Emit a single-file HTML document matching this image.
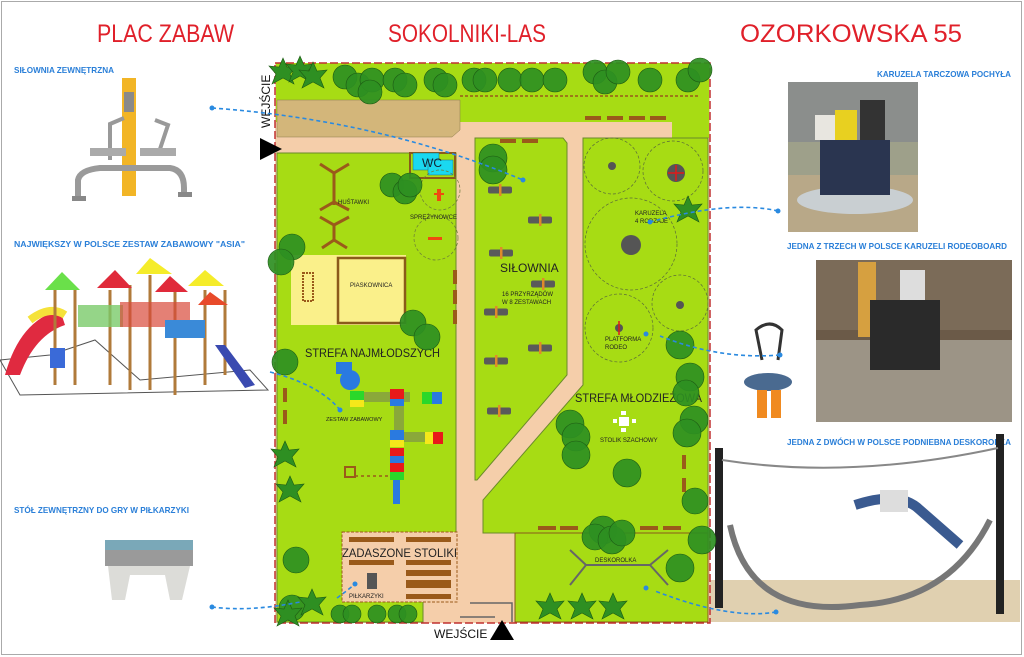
<!DOCTYPE html>
<html><head><meta charset="utf-8"><style>
html,body{margin:0;padding:0;background:#fff;}
svg{display:block;}
.t{font-family:"Liberation Sans",sans-serif;}
</style></head><body>
<svg width="1024" height="657" viewBox="0 0 1024 657" xmlns="http://www.w3.org/2000/svg">
<defs>
<g id="g1"><rect x="-12" y="-3.5" width="24" height="7" rx="2" fill="#5a5a5a"/><rect x="-1" y="-6" width="2.5" height="12" fill="#e08a2a"/></g>
<polygon id="st" points="0,-14 4,-5 14,-6 7,2 11,12 0,6 -11,12 -7,2 -14,-6 -4,-5"/>
</defs>
<rect x="1.5" y="1.5" width="1020" height="653" fill="#fff" stroke="#aaa"/>
<!-- titles -->
<g class="t" fill="#e0202a" font-size="25">
<text x="97" y="42" textLength="137" lengthAdjust="spacingAndGlyphs">PLAC ZABAW</text>
<text x="388" y="42" textLength="158" lengthAdjust="spacingAndGlyphs">SOKOLNIKI-LAS</text>
<text x="740" y="42" textLength="222" lengthAdjust="spacingAndGlyphs">OZORKOWSKA 55</text>
</g>
<g class="t" fill="#2a7fd8" font-size="8.5" font-weight="bold">
<text x="14" y="73" textLength="100" lengthAdjust="spacingAndGlyphs">SIŁOWNIA ZEWNĘTRZNA</text>
<text x="14" y="247" textLength="231" lengthAdjust="spacingAndGlyphs">NAJWIĘKSZY W POLSCE ZESTAW ZABAWOWY "ASIA"</text>
<text x="14" y="513" textLength="175" lengthAdjust="spacingAndGlyphs">STÓŁ ZEWNĘTRZNY DO GRY W PIŁKARZYKI</text>
<text x="877" y="77" textLength="134" lengthAdjust="spacingAndGlyphs">KARUZELA TARCZOWA POCHYŁA</text>
<text x="787" y="249" textLength="220" lengthAdjust="spacingAndGlyphs">JEDNA Z TRZECH W POLSCE KARUZELI RODEOBOARD</text>
<text x="787" y="445" textLength="224" lengthAdjust="spacingAndGlyphs">JEDNA Z DWÓCH W POLSCE PODNIEBNA DESKOROLKA</text>
</g>
<!-- gym image -->
<g>
<rect x="122" y="78" width="14" height="118" fill="#f2b526"/>
<rect x="124" y="92" width="10" height="20" fill="#8a8a8a"/>
<path d="M78 200 L78 180 Q80 170 100 168 L170 168 Q184 170 184 188 L184 196" fill="none" stroke="#9a9a9a" stroke-width="6"/>
<path d="M110 160 L110 124 L124 118 M158 155 L168 125 L155 120" fill="none" stroke="#999" stroke-width="4"/>
<rect x="90" y="148" width="36" height="8" fill="#aaa"/><rect x="140" y="148" width="36" height="8" fill="#aaa"/>
<rect x="72" y="196" width="14" height="5" fill="#888"/><rect x="178" y="192" width="14" height="5" fill="#888"/>
</g>
<!-- playground image -->
<g>
<path d="M0 360 L50 355 L95 340 L140 380 L250 370 L268 390 L20 395 Z" fill="none" stroke="#555" stroke-width="1"/>
<path d="M5 375 Q20 320 60 310 L65 325 Q35 335 20 375 Z" fill="#e02a40"/>
<path d="M30 320 Q50 305 65 315" stroke="#f5e23a" stroke-width="8" fill="none"/>
<g stroke="#b07a3a" stroke-width="3"><line x1="55" y1="290" x2="55" y2="385"/><line x1="75" y1="290" x2="75" y2="385"/><line x1="110" y1="290" x2="110" y2="385"/><line x1="130" y1="285" x2="130" y2="390"/><line x1="150" y1="275" x2="150" y2="390"/><line x1="175" y1="290" x2="175" y2="395"/><line x1="205" y1="290" x2="205" y2="385"/><line x1="225" y1="290" x2="225" y2="375"/></g>
<polygon points="45,290 62,272 80,290" fill="#6ae04a"/>
<polygon points="97,288 115,270 132,288" fill="#e02a3a"/>
<polygon points="136,274 150,258 172,274" fill="#f5ec2a"/>
<polygon points="155,292 170,276 188,292" fill="#e02a3a"/>
<polygon points="188,286 205,270 224,286" fill="#f5ec2a"/>
<polygon points="198,305 210,292 228,305" fill="#e84a2a"/>
<rect x="78" y="305" width="45" height="22" fill="#7acb6a" opacity=".8"/>
<rect x="120" y="302" width="70" height="25" fill="#d84a3a" opacity=".7"/>
<rect x="165" y="320" width="40" height="18" fill="#3a8ad8"/>
<rect x="50" y="348" width="15" height="20" fill="#3a6ad8"/>
<polygon points="215,345 225,345 255,385 245,388" fill="#3a4ab0"/>
</g>
<!-- foosball -->
<rect x="105" y="548" width="88" height="18" fill="#9a9a9a"/>
<rect x="105" y="540" width="88" height="10" fill="#7aa8b8"/>
<polygon points="108,566 190,566 182,600 170,600 165,575 130,575 125,600 112,600" fill="#dcdcd8"/>
<!-- right photos -->
<rect x="788" y="82" width="130" height="150" fill="#9ea08a"/>
<rect x="788" y="82" width="130" height="60" fill="#8b8e8c"/>
<rect x="788" y="175" width="130" height="57" fill="#b8a888"/>
<ellipse cx="855" cy="200" rx="58" ry="14" fill="#c9cfd2"/>
<rect x="835" y="110" width="22" height="45" fill="#e8d020"/>
<rect x="815" y="115" width="20" height="25" fill="#e8e6e0"/>
<rect x="860" y="100" width="25" height="50" fill="#333"/>
<rect x="820" y="140" width="70" height="55" fill="#2a3550"/>
<rect x="816" y="260" width="196" height="162" fill="#6b5a48"/>
<rect x="816" y="260" width="196" height="70" fill="#7b6b58"/>
<rect x="816" y="340" width="196" height="82" fill="#9c9486"/>
<rect x="858" y="262" width="18" height="75" fill="#d6a040"/>
<rect x="870" y="300" width="70" height="70" fill="#2a2a2a"/>
<rect x="900" y="270" width="25" height="30" fill="#ddd"/>
<!-- rodeo seat -->
<path d="M762 360 L756 330 Q770 318 782 330 L778 360" fill="none" stroke="#333" stroke-width="3"/>
<ellipse cx="768" cy="382" rx="24" ry="9" fill="#4a6a90"/>
<rect x="757" y="390" width="10" height="28" fill="#f08a20"/><rect x="771" y="390" width="10" height="28" fill="#f08a20"/>
<!-- deskorolka -->
<rect x="705" y="580" width="315" height="42" fill="#d8c49c" opacity=".8"/>
<rect x="715" y="448" width="8" height="160" fill="#222"/>
<rect x="996" y="434" width="8" height="180" fill="#222"/>
<path d="M722 460 Q850 480 998 448" stroke="#888" stroke-width="2" fill="none"/>
<path d="M730 525 Q750 620 860 605 Q950 600 990 520" stroke="#777" stroke-width="6" fill="none"/>
<path d="M855 505 Q900 490 920 510 L960 545" stroke="#3a5a90" stroke-width="10" fill="none"/>
<rect x="880" y="490" width="28" height="22" fill="#ddd"/>
<!-- MAP base -->
<rect x="275" y="63" width="435" height="560" fill="#f5ceaa"/>
<g fill="#a7dc14" stroke="#6a8a2a" stroke-width="1">
<rect x="276" y="63" width="433" height="59" stroke="none"/>
<rect x="672" y="122" width="37" height="16" stroke="none"/>
<polygon points="277,153 456,153 456,533 423,533 423,622 277,622"/>
<polygon points="475,138 563,138 567,143 567,375 477,480 475,480"/>
<polygon points="583,138 708,138 708,533 483,533 483,500 583,385"/>
<rect x="515" y="533" width="193" height="89" stroke="#8a5a1a"/>
</g>
<polygon points="277,100 460,100 460,130 452,137 277,137" fill="#d3b67a" stroke="#8a7a4a" stroke-width=".5"/>
<rect x="275" y="63" width="435" height="560" fill="none" stroke="#c03030" stroke-width="1.5" stroke-dasharray="8 3"/>
<!-- brown benches -->
<g fill="#9a5a1a">
<rect x="585" y="116" width="16" height="4"/><rect x="607" y="116" width="16" height="4"/><rect x="629" y="116" width="16" height="4"/><rect x="650" y="116" width="16" height="4"/>
<rect x="500" y="139" width="16" height="4"/><rect x="522" y="139" width="16" height="4"/>
<rect x="453" y="270" width="4" height="14"/><rect x="453" y="290" width="4" height="14"/><rect x="453" y="310" width="4" height="14"/>
<rect x="283" y="388" width="4" height="14"/><rect x="283" y="410" width="4" height="14"/>
<rect x="682" y="455" width="4" height="14"/><rect x="682" y="478" width="4" height="14"/>
<rect x="538" y="526" width="18" height="4"/><rect x="560" y="526" width="18" height="4"/><rect x="640" y="526" width="18" height="4"/><rect x="663" y="526" width="18" height="4"/>
</g>
<line x1="460" y1="96" x2="700" y2="96" stroke="#9a5a1a" stroke-width="1.5" stroke-dasharray="3 2"/>
<!-- WC -->
<rect x="410" y="153" width="45" height="25" fill="none" stroke="#8a5a1a" stroke-width="2"/>
<rect x="413" y="153" width="26" height="17" fill="#1ad8f0" stroke="#2a6a7a" stroke-width=".5"/>
<rect x="428" y="160" width="25" height="15" fill="#1ad8f0" stroke="#2a6a7a" stroke-width=".5"/>
<text x="422" y="167" class="t" font-size="12" fill="#123">WC</text>
<!-- swings -->
<g stroke="#9a5a1a" stroke-width="3" fill="none">
<path d="M320 164 L334 173 L349 164 M334 173 L334 205 M320 210 L334 202 L349 210"/>
<path d="M320 217 L334 225 L349 217 M334 225 L334 240 M322 248 L334 240 L347 248"/>
</g>
<text x="338" y="204" class="t" font-size="6" fill="#222">HUŚTAWKI</text>
<!-- sprężynowce -->
<circle cx="440" cy="190" r="20" fill="none" stroke="#6a7a3a" stroke-dasharray="3 2" stroke-width=".7"/>
<circle cx="436" cy="238" r="22" fill="none" stroke="#6a7a3a" stroke-dasharray="3 2" stroke-width=".7"/>
<rect x="437" y="189" width="4" height="12" fill="#f04a10"/><rect x="434" y="193" width="10" height="2" fill="#f04a10"/>
<rect x="428" y="237" width="14" height="3" fill="#f04a10"/>
<text x="410" y="219" class="t" font-size="6" fill="#222">SPRĘŻYNOWCE</text>
<!-- sandbox -->
<rect x="291" y="255" width="115" height="70" fill="#faf08a"/>
<rect x="338" y="258" width="67" height="65" fill="none" stroke="#8a5a1a" stroke-width="2.5"/>
<text x="350" y="287" class="t" font-size="6" fill="#222">PIASKOWNICA</text>
<rect x="303" y="273" width="10" height="28" fill="none" stroke="#9a5a1a" stroke-width="2" stroke-dasharray="2 1"/>
<!-- playset -->
<g>
<rect x="360" y="392" width="50" height="10" fill="#8aa83a"/>
<rect x="394" y="400" width="10" height="40" fill="#8aa83a"/>
<rect x="396" y="432" width="45" height="10" fill="#8aa83a"/>
<rect x="336" y="362" width="16" height="12" fill="#2a7ae0"/>
<circle cx="350" cy="380" r="10" fill="#2a7ae0"/>
<rect x="350" y="391" width="14" height="9" fill="#2ad82a"/><rect x="350" y="400" width="14" height="7" fill="#f5e81a"/>
<rect x="390" y="389" width="14" height="10" fill="#e81a1a"/><rect x="390" y="399" width="14" height="7" fill="#2a7ae0"/>
<rect x="422" y="392" width="10" height="12" fill="#2ad82a"/><rect x="432" y="392" width="10" height="12" fill="#2a7ae0"/>
<rect x="390" y="430" width="14" height="10" fill="#2a7ae0"/><rect x="390" y="440" width="14" height="7" fill="#f5e81a"/>
<rect x="390" y="448" width="14" height="8" fill="#e81a1a"/><rect x="390" y="456" width="14" height="7" fill="#2a7ae0"/>
<rect x="390" y="463" width="14" height="9" fill="#e81a1a"/><rect x="390" y="472" width="14" height="8" fill="#2ad82a"/>
<rect x="393" y="480" width="7" height="24" fill="#2a7ae0"/>
<rect x="425" y="432" width="10" height="12" fill="#f5e81a"/><rect x="433" y="432" width="10" height="12" fill="#e81a1a"/>
<rect x="345" y="467" width="10" height="10" fill="none" stroke="#9a5a1a" stroke-width="2"/>
<line x1="355" y1="476" x2="390" y2="476" stroke="#9a5a1a" stroke-width="1.5" stroke-dasharray="3 3"/>
</g>
<text x="326" y="421" class="t" font-size="5.5" fill="#222">ZESTAW ZABAWOWY</text>
<!-- zadaszone stoliki -->
<rect x="342" y="532" width="115" height="70" fill="#f5ceaa" stroke="#9a5a1a" stroke-dasharray="3 1.5"/>
<g fill="#9a5a1a">
<rect x="349" y="537" width="45" height="5"/><rect x="406" y="537" width="45" height="5"/>
<rect x="349" y="560" width="45" height="5"/><rect x="406" y="560" width="45" height="5"/>
<rect x="406" y="570" width="45" height="6"/><rect x="406" y="580" width="45" height="8"/><rect x="406" y="594" width="45" height="5"/>
</g>
<rect x="367" y="573" width="10" height="16" fill="#555"/>
<text x="342" y="557" class="t" font-size="12" fill="#222" textLength="115" lengthAdjust="spacingAndGlyphs">ZADASZONE STOLIKI</text>
<text x="349" y="598" class="t" font-size="6" fill="#222">PIŁKARZYKI</text>
<path d="M470 603 L512 603 L512 622 M460 617 L495 617" stroke="#666" stroke-width="1.5" fill="none"/>
<!-- gym -->
<use href="#g1" x="500" y="190"/><use href="#g1" x="540" y="220"/><use href="#g1" x="501" y="253"/><use href="#g1" x="543" y="284"/><use href="#g1" x="496" y="312"/><use href="#g1" x="540" y="348"/><use href="#g1" x="496" y="361"/><use href="#g1" x="499" y="411"/>
<text x="500" y="272" class="t" font-size="12" fill="#222">SIŁOWNIA</text>
<text x="502" y="296" class="t" font-size="6" fill="#222">16 PRZYRZĄDÓW</text>
<text x="502" y="304" class="t" font-size="6" fill="#222">W 8 ZESTAWACH</text>
<!-- karuzela -->
<g fill="none" stroke="#5a6a3a" stroke-width=".7" stroke-dasharray="3 2">
<circle cx="612" cy="166" r="28"/><circle cx="673" cy="171" r="30"/><circle cx="631" cy="244" r="46"/><circle cx="680" cy="303" r="28"/><circle cx="619" cy="328" r="34"/>
</g>
<g fill="#555"><circle cx="612" cy="166" r="4"/><circle cx="676" cy="173" r="9"/><circle cx="631" cy="245" r="10"/><circle cx="680" cy="305" r="4"/><circle cx="619" cy="328" r="4"/></g>
<path d="M676 165 V181 M668 173 H684 M619 321 V335" stroke="#e01a1a" stroke-width="1.5"/>
<text x="635" y="215" class="t" font-size="6" fill="#222">KARUZELA</text>
<text x="635" y="223" class="t" font-size="6" fill="#222">4 RODZAJE</text>
<text x="605" y="341" class="t" font-size="6" fill="#222">PLATFORMA</text>
<text x="605" y="349" class="t" font-size="6" fill="#222">RODEO</text>
<text x="575" y="402" class="t" font-size="12" fill="#222" textLength="127" lengthAdjust="spacingAndGlyphs">STREFA MŁODZIEŻOWA</text>
<text x="305" y="357" class="t" font-size="12" fill="#222" textLength="135" lengthAdjust="spacingAndGlyphs">STREFA NAJMŁODSZYCH</text>
<!-- stolik szachowy -->
<rect x="619" y="417" width="10" height="9" fill="#fff"/><rect x="621" y="411" width="5" height="4" fill="#fff"/><rect x="621" y="428" width="5" height="4" fill="#fff"/><rect x="613" y="419" width="4" height="4" fill="#fff"/><rect x="632" y="419" width="4" height="4" fill="#fff"/>
<text x="600" y="442" class="t" font-size="6" fill="#222">STOLIK SZACHOWY</text>
<!-- deskorolka symbol -->
<path d="M570 550 L586 565 L650 565 L668 550 M570 585 L586 565 M650 565 L668 585" stroke="#666" stroke-width="2" fill="none"/>
<text x="595" y="562" class="t" font-size="6" fill="#222">DESKOROLKA</text>
<!-- trees -->
<g fill="#2e8f22" stroke="#1d5a14" stroke-width=".6" fill-opacity=".92">
<circle cx="345" cy="77" r="12"/><circle cx="358" cy="85" r="12"/><circle cx="372" cy="80" r="12"/><circle cx="370" cy="92" r="12"/><circle cx="395" cy="80" r="12"/><circle cx="405" cy="85" r="12"/><circle cx="436" cy="80" r="12"/><circle cx="445" cy="85" r="12"/><circle cx="474" cy="80" r="12"/><circle cx="485" cy="80" r="12"/><circle cx="510" cy="80" r="12"/><circle cx="532" cy="80" r="12"/><circle cx="555" cy="80" r="12"/><circle cx="595" cy="72" r="12"/><circle cx="605" cy="82" r="12"/><circle cx="618" cy="72" r="12"/><circle cx="650" cy="80" r="12"/><circle cx="688" cy="80" r="12"/><circle cx="700" cy="70" r="12"/>
<circle cx="292" cy="247" r="13"/><circle cx="281" cy="262" r="13"/><circle cx="413" cy="323" r="13"/><circle cx="427" cy="337" r="13"/><circle cx="285" cy="362" r="13"/><circle cx="296" cy="560" r="13"/><circle cx="292" cy="608" r="13"/><circle cx="340" cy="614" r="9"/><circle cx="352" cy="614" r="9"/><circle cx="377" cy="614" r="9"/><circle cx="397" cy="614" r="9"/><circle cx="408" cy="614" r="9"/>
<circle cx="392" cy="185" r="12"/><circle cx="405" cy="192" r="12"/><circle cx="410" cy="185" r="12"/>
<circle cx="493" cy="158" r="14"/><circle cx="493" cy="170" r="14"/>
<circle cx="680" cy="345" r="14"/><circle cx="690" cy="377" r="14"/><circle cx="686" cy="393" r="13"/><circle cx="570" cy="424" r="14"/><circle cx="576" cy="437" r="14"/><circle cx="576" cy="455" r="14"/><circle cx="627" cy="473" r="14"/><circle cx="694" cy="420" r="14"/><circle cx="687" cy="433" r="14"/><circle cx="695" cy="501" r="13"/><circle cx="702" cy="540" r="14"/><circle cx="680" cy="568" r="14"/>
<circle cx="603" cy="530" r="14"/><circle cx="595" cy="537" r="13"/><circle cx="612" cy="540" r="14"/><circle cx="622" cy="533" r="13"/>
</g>
<g fill="#2e8f22" stroke="#1d5a14" stroke-width=".6">
<use href="#st" x="283" y="72"/><use href="#st" x="300" y="70"/><use href="#st" x="313" y="76"/><use href="#st" x="688" y="210"/>
<use href="#st" x="285" y="455"/><use href="#st" x="290" y="490"/><use href="#st" x="312" y="603"/><use href="#st" x="288" y="614"/>
<use href="#st" x="550" y="607"/><use href="#st" x="582" y="607"/><use href="#st" x="613" y="607"/>
</g>
<!-- entrances -->
<polygon points="260,138 260,160 282,149" fill="#000"/>
<text transform="translate(270,128) rotate(-90)" class="t" font-size="12" fill="#111">WEJŚCIE</text>
<polygon points="490,640 514,640 502,620" fill="#000"/>
<text x="434" y="638" class="t" font-size="12" fill="#111">WEJŚCIE</text>
<!-- connectors -->
<g fill="none" stroke="#2a8ae0" stroke-width="1.6" stroke-dasharray="4 3">
<path d="M212 108 Q380 120 523 180"/>
<path d="M270 372 Q320 385 340 410"/>
<path d="M212 607 Q250 612 300 602"/>
<path d="M778 211 Q730 200 650 222"/>
<path d="M780 355 Q720 360 660 336"/>
<path d="M776 612 Q730 620 655 591"/>
<path d="M337 598 Q348 590 355 584"/>
</g>
<g fill="#2a8ae0"><circle cx="212" cy="108" r="2.5"/><circle cx="523" cy="180" r="2.5"/><circle cx="340" cy="410" r="2.5"/><circle cx="212" cy="607" r="2.5"/><circle cx="778" cy="211" r="2.5"/><circle cx="650" cy="222" r="2.5"/><circle cx="780" cy="355" r="2.5"/><circle cx="646" cy="334" r="2.5"/><circle cx="776" cy="612" r="2.5"/><circle cx="646" cy="588" r="2.5"/><circle cx="355" cy="584" r="2.5"/></g>
</svg>
</body></html>
